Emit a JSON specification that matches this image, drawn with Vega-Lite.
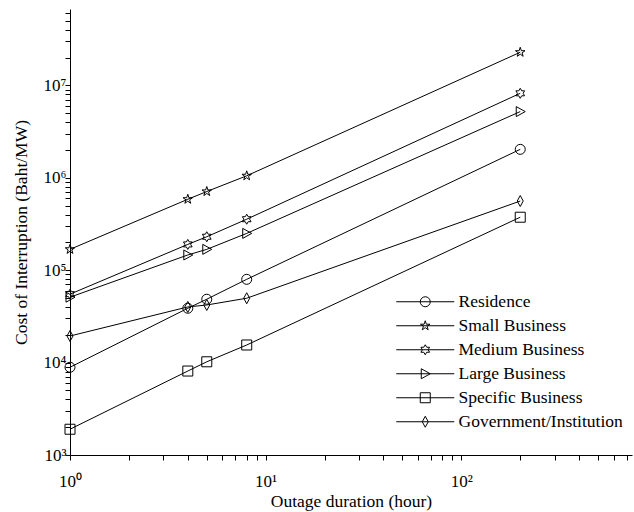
{
  "$schema": "https://vega.github.io/schema/vega-lite/v6.json",
  "width": 562,
  "height": 446,
  "autosize": {"type": "none"},
  "padding": {"left": 70, "top": 9, "right": 2, "bottom": 57},
  "background": "white",
  "config": {
    "view": {"stroke": null},
    "font": "Liberation Serif",
    "axis": {
      "domainColor": "black", "tickColor": "black", "labelColor": "black", "titleColor": "black",
      "labelFont": "Liberation Serif", "titleFont": "Liberation Serif",
      "titleFontWeight": "normal", "labelFontSize": 17, "titleFontSize": 17.5,
      "grid": false, "ticks": true, "tickSize": 5, "tickWidth": 1, "labelOverlap": false, "labelFlush": false, "labelBound": false
    },
    "legend": {
      "labelFont": "Liberation Serif", "labelFontSize": 17.5, "labelColor": "black"
    }
  },
  "data": {
    "values": [
      {"series": "Residence", "hours": 1, "cost": 8900},
      {"series": "Residence", "hours": 4, "cost": 38700},
      {"series": "Residence", "hours": 5, "cost": 48500},
      {"series": "Residence", "hours": 8, "cost": 79600},
      {"series": "Residence", "hours": 200, "cost": 2030000},
      {"series": "Small Business", "hours": 1, "cost": 168000},
      {"series": "Small Business", "hours": 4, "cost": 585000},
      {"series": "Small Business", "hours": 5, "cost": 710000},
      {"series": "Small Business", "hours": 8, "cost": 1050000},
      {"series": "Small Business", "hours": 200, "cost": 22800000},
      {"series": "Medium Business", "hours": 1, "cost": 55000},
      {"series": "Medium Business", "hours": 4, "cost": 190000},
      {"series": "Medium Business", "hours": 5, "cost": 230000},
      {"series": "Medium Business", "hours": 8, "cost": 356000},
      {"series": "Medium Business", "hours": 200, "cost": 8200000},
      {"series": "Large Business", "hours": 1, "cost": 51000},
      {"series": "Large Business", "hours": 4, "cost": 146000},
      {"series": "Large Business", "hours": 5, "cost": 168000},
      {"series": "Large Business", "hours": 8, "cost": 250000},
      {"series": "Large Business", "hours": 200, "cost": 5200000},
      {"series": "Specific Business", "hours": 1, "cost": 1900},
      {"series": "Specific Business", "hours": 4, "cost": 8100},
      {"series": "Specific Business", "hours": 5, "cost": 10200},
      {"series": "Specific Business", "hours": 8, "cost": 15500},
      {"series": "Specific Business", "hours": 200, "cost": 374000},
      {"series": "Government/Institution", "hours": 1, "cost": 19400},
      {"series": "Government/Institution", "hours": 4, "cost": 40000},
      {"series": "Government/Institution", "hours": 5, "cost": 42000},
      {"series": "Government/Institution", "hours": 8, "cost": 49700},
      {"series": "Government/Institution", "hours": 200, "cost": 560000}
    ]
  },
  "encoding": {
    "x": {
      "field": "hours", "type": "quantitative",
      "scale": {"type": "log", "domain": [1, 745], "nice": false},
      "axis": {
        "title": "Outage duration (hour)",
        "values": [1,2,3,4,5,6,7,8,9,10,20,30,40,50,60,70,80,90,100,200,300,400,500,600,700],
        "labelExpr": "abs(log(datum.value)/LN10 - round(log(datum.value)/LN10)) < 1e-6 ? '10' + ['⁰','¹','²','³','⁴','⁵','⁶','⁷'][round(log(datum.value)/LN10)] : ''",
        "labelPadding": 13, "titlePadding": 3,
        "encode": {"ticks": {"update": {"y2": {"value": -5}}}}
      }
    },
    "y": {
      "field": "cost", "type": "quantitative",
      "scale": {"type": "log", "domain": [1000, 67000000], "nice": false},
      "axis": {
        "title": "Cost of Interruption (Baht/MW)",
        "values": [1000,2000,3000,4000,5000,6000,7000,8000,9000,10000,20000,30000,40000,50000,60000,70000,80000,90000,100000,200000,300000,400000,500000,600000,700000,800000,900000,1000000,2000000,3000000,4000000,5000000,6000000,7000000,8000000,9000000,10000000,20000000,30000000,40000000,50000000,60000000],
        "labelExpr": "abs(log(datum.value)/LN10 - round(log(datum.value)/LN10)) < 1e-6 ? '10' + ['⁰','¹','²','³','⁴','⁵','⁶','⁷'][round(log(datum.value)/LN10)] : ''",
        "labelPadding": -1, "titlePadding": 13,
        "encode": {"ticks": {"update": {"x2": {"value": 5}}}}
      }
    }
  },
  "layer": [
    {
      "mark": {"type": "line", "color": "black", "strokeWidth": 1},
      "encoding": {"detail": {"field": "series"}}
    },
    {
      "mark": {"type": "point", "filled": false, "color": "black", "strokeWidth": 1, "size": 100, "opacity": 1},
      "encoding": {
        "shape": {
          "field": "series", "type": "nominal",
          "scale": {
            "domain": ["Residence", "Small Business", "Medium Business", "Large Business", "Specific Business", "Government/Institution"],
            "range": [
              "circle",
              "M0,-1L0.225,-0.309L0.951,-0.309L0.363,0.118L0.588,0.809L0,0.382L-0.588,0.809L-0.363,0.118L-0.951,-0.309L-0.225,-0.309Z",
              "M0,-1L0.289,-0.5L0.866,-0.5L0.577,0L0.866,0.5L0.289,0.5L0,1L-0.289,0.5L-0.866,0.5L-0.577,0L-0.866,-0.5L-0.289,-0.5Z",
              "M-0.8,-1L1,0L-0.8,1Z",
              "square",
              "M0,-1.1L0.6,0L0,1.1L-0.6,0Z"
            ]
          },
          "legend": null
        }
      }
    },
    {
      "mark": {"type": "point", "filled": false, "color": "black", "strokeWidth": 1, "size": 81, "opacity": 0},
      "encoding": {
        "shape": {
          "field": "series", "type": "nominal",
          "scale": {
            "domain": ["Residence", "Small Business", "Medium Business", "Large Business", "Specific Business", "Government/Institution"],
            "range": [
              "M-5.8,0L5.8,0M1,0A1,1,0,1,1,-1,0A1,1,0,1,1,1,0Z",
              "M-5.8,0L5.8,0M0,-1L0.225,-0.309L0.951,-0.309L0.363,0.118L0.588,0.809L0,0.382L-0.588,0.809L-0.363,0.118L-0.951,-0.309L-0.225,-0.309Z",
              "M-5.8,0L5.8,0M0,-1L0.289,-0.5L0.866,-0.5L0.577,0L0.866,0.5L0.289,0.5L0,1L-0.289,0.5L-0.866,0.5L-0.577,0L-0.866,-0.5L-0.289,-0.5Z",
              "M-5.8,0L5.8,0M-0.8,-1L1,0L-0.8,1Z",
              "M-5.8,0L5.8,0M-1,-1L1,-1L1,1L-1,1Z",
              "M-5.8,0L5.8,0M0,-1.1L0.6,0L0,1.1L-0.6,0Z"
            ]
          },
          "legend": {
            "title": null,
            "orient": "none",
            "legendX": 346.5,
            "legendY": 284,
            "padding": 0,
            "symbolOpacity": 1,
            "symbolStrokeColor": "black",
            "symbolFillColor": "transparent",
            "symbolStrokeWidth": 1,
            "labelOffset": 24.5,
            "labelLimit": 0,
            "rowPadding": 5
          }
        }
      }
    }
  ],
  "resolve": {"scale": {"shape": "independent"}, "legend": {"shape": "independent"}}
}
